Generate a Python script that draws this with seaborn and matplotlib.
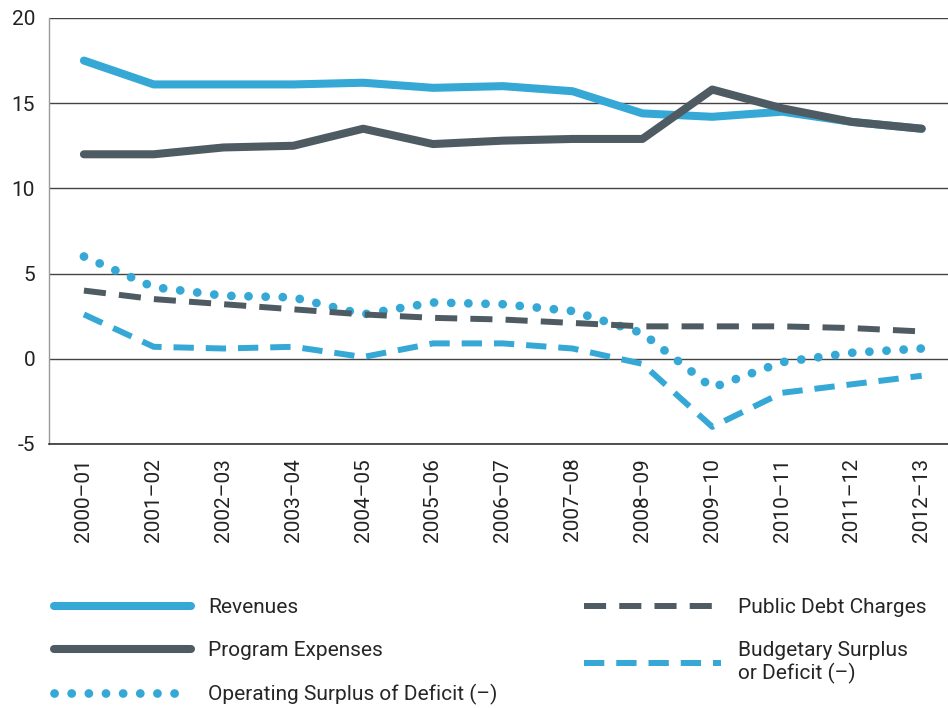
import pandas as pd
import seaborn as sns
import matplotlib.pyplot as plt

years = ["2000–01", "2001–02", "2002–03", "2003–04", "2004–05", "2005–06", "2006–07",
         "2007–08", "2008–09", "2009–10", "2010–11", "2011–12", "2012–13"]
revenues = [17.5, 16.1, 16.1, 16.1, 16.2, 15.9, 16.0, 15.7, 14.4, 14.2, 14.5, 13.9, 13.5]
program_expenses = [12.0, 12.0, 12.4, 12.5, 13.5, 12.6, 12.8, 12.9, 12.9, 15.8, 14.7, 13.9, 13.5]
operating_surplus = [6.0, 4.2, 3.7, 3.6, 2.6, 3.3, 3.2, 2.8, 1.5, -1.7, -0.2, 0.35, 0.6]
public_debt = [4.0, 3.5, 3.2, 2.9, 2.6, 2.4, 2.3, 2.1, 1.9, 1.9, 1.9, 1.8, 1.6]
budgetary_surplus = [2.6, 0.7, 0.6, 0.7, 0.1, 0.9, 0.9, 0.6, -0.3, -4.0, -2.0, -1.5, -1.0]

df = pd.DataFrame({
    "idx": range(len(years)),
    "Revenues": revenues,
    "Program Expenses": program_expenses,
    "Operating Surplus of Deficit (–)": operating_surplus,
    "Public Debt Charges": public_debt,
    "Budgetary Surplus\nor Deficit (–)": budgetary_surplus,
})

blue = "#35a8d6"
grey = "#4f5b63"

sns.set_style("white")
plt.rcParams["font.family"] = ["Roboto", "DejaVu Sans"]
plt.rcParams["font.size"] = 15

fig = plt.figure(figsize=(9.48, 7.08), dpi=100)
ax = fig.add_axes([0.0517, 0.373, 0.95, 0.6016])

styles = {
    "Revenues": dict(color=blue, lw=5.8, ls="-", solid_capstyle="round"),
    "Program Expenses": dict(color=grey, lw=5.8, ls="-", solid_capstyle="round"),
    "Operating Surplus of Deficit (–)": dict(color=blue, lw=6.3, ls=(0, (0.01, 1.95)),
                                            dash_capstyle="round"),
    "Public Debt Charges": dict(color=grey, lw=4.3, ls=(0, (3.7, 2.2)), dash_capstyle="butt"),
    "Budgetary Surplus\nor Deficit (–)": dict(color=blue, lw=4.3, ls=(0, (3.4, 2.0)),
                                             dash_capstyle="butt"),
}

for name, kw in styles.items():
    sns.lineplot(data=df, x="idx", y=name, ax=ax, label=name, **kw)

ax.set_xlim(-0.5, 12.4)
ax.set_ylim(-5, 20)
ax.set_yticks([-5, 0, 5, 10, 15, 20])
ax.set_yticklabels(["-5", "0", "5", "10", "15", "20"], fontsize=15, color="#222222")
ax.set_xticks(range(len(years)))
ax.set_xticklabels(years, rotation=90, fontsize=15, color="#222222")
ax.set_xlabel("")
ax.set_ylabel("")

ax.grid(axis="y", color="#444444", lw=1.0)
ax.grid(axis="x", visible=False)
ax.set_axisbelow(True)
for s in ["top", "right"]:
    ax.spines[s].set_visible(False)
ax.spines["left"].set_color("#999999")
ax.spines["left"].set_linewidth(1.0)
ax.spines["bottom"].set_color("#333333")
ax.spines["bottom"].set_linewidth(1.2)
ax.tick_params(axis="x", direction="in", length=10, width=1, color="#333333", pad=10)
ax.tick_params(axis="y", length=0, pad=10)

ax.legend_.remove()
handles, labels = ax.get_legend_handles_labels()
fig.legend(handles, labels, ncol=2, loc="upper left", bbox_to_anchor=(0.037, 0.182),
           frameon=False, handlelength=6.6, handletextpad=0.8, columnspacing=4.15,
           labelspacing=1.15, fontsize=15)

fig.savefig("out.png", dpi=100)
